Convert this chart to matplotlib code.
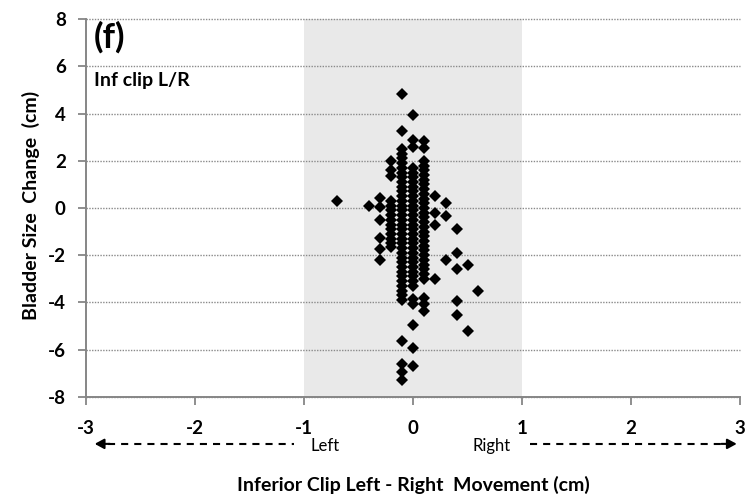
import matplotlib
matplotlib.use("Agg")
import matplotlib.pyplot as plt

plt.rcParams['font.family'] = ['Lato', 'DejaVu Sans']
plt.rcParams['axes.unicode_minus'] = False

# ---- data (x = clip L/R movement, y = bladder size change) ----
x_m07 = -0.7
y_m07 = [0.3]
x_m04 = -0.4
y_m04 = [0.07]
x_m03 = -0.3
y_m03 = [0.42, 0.05, -0.5, -1.28, -1.75, -2.2]
x_m02 = -0.2
y_m02 = [2.0, 1.6, 1.35, 0.3, 0.1, -0.1, -0.3, -0.5, -0.7, -0.9, -1.1, -1.3, -1.5, -1.65]
x_m01 = -0.1
y_m01 = [4.85, 3.25, 2.5, 2.3, 2.1, 1.9, 1.7, 1.5, 1.3, 1.1, 0.9, 0.7, 0.5, 0.3, 0.1,
         -0.1, -0.3, -0.5, -0.7, -0.9, -1.1, -1.3, -1.5, -1.7, -1.9, -2.1, -2.3, -2.5,
         -2.7, -2.9, -3.1, -3.3, -3.5, -3.7, -3.9, -5.65, -6.6, -6.95, -7.3]
x_00 = 0.0
y_00 = [3.95, 2.9, 2.6, 1.7, 1.5, 1.3, 1.1, 0.9, 0.7, 0.5, 0.3, 0.1, -0.1, -0.3, -0.5,
        -0.7, -0.9, -1.1, -1.3, -1.5, -1.7, -1.9, -2.1, -2.3, -2.5, -2.7, -2.9, -3.1,
        -3.3, -3.85, -4.05, -4.95, -5.95, -6.7]
x_p01 = 0.1
y_p01 = [2.85, 2.55, 2.0, 1.8, 1.6, 1.4, 1.2, 1.0, 0.8, 0.6, 0.4, 0.2, 0.0, -0.2, -0.4,
         -0.6, -0.8, -1.0, -1.2, -1.4, -1.6, -1.8, -2.0, -2.2, -2.4, -2.6, -2.8, -3.0,
         -3.8, -4.05, -4.35]
x_p02 = 0.2
y_p02 = [0.5, -0.2, -0.7, -3.0]
x_p03 = 0.3
y_p03 = [0.2, -0.35, -2.2]
x_p04 = 0.4
y_p04 = [-0.9, -1.9, -2.6, -3.95, -4.55]
x_p05 = 0.5
y_p05 = [-2.4, -5.2]
x_p06 = 0.6
y_p06 = [-3.5]

x_ticks = [-3, -2, -1, 0, 1, 2, 3]
y_ticks = [-8, -6, -4, -2, 0, 2, 4, 6, 8]
band_range = (-1, 1)

groups = [(x_m07, y_m07), (x_m04, y_m04), (x_m03, y_m03), (x_m02, y_m02),
          (x_m01, y_m01), (x_00, y_00), (x_p01, y_p01), (x_p02, y_p02),
          (x_p03, y_p03), (x_p04, y_p04), (x_p05, y_p05), (x_p06, y_p06)]

W, H = 749, 495
fig = plt.figure(figsize=(W / 100, H / 100), dpi=100)
ax = fig.add_axes([86 / W, 1 - 396.7 / H, (740 - 86) / W, (396.7 - 19.3) / H])
ax.set_xlim(-3, 3)
ax.set_ylim(-8, 8)

ax.axvspan(band_range[0], band_range[1], color='#e9e9e9', lw=0, zorder=0)

for gx, gy in groups:
    ax.plot([gx] * len(gy), gy, linestyle='none', marker='D', markersize=6.6,
            color='black', markeredgewidth=0, zorder=3)

ax.set_xticks(x_ticks)
ax.set_yticks(y_ticks)
ax.set_axisbelow(True)
ax.yaxis.grid(True, linestyle=(0, (1, 1)), color='#8a8a8a', linewidth=1.0)
ax.xaxis.grid(False)
for ln in ax.get_ygridlines():
    ln.set_clip_on(False)

for s in ['top', 'right']:
    ax.spines[s].set_visible(False)
for s in ['left', 'bottom']:
    ax.spines[s].set_color('#868686')
    ax.spines[s].set_linewidth(1.4)
    ax.spines[s].set_zorder(4)

ax.tick_params(axis='both', direction='out', length=5.5, width=1.3, color='#868686',
               labelsize=13.5)
ax.tick_params(axis='x', pad=11)
ax.tick_params(axis='y', pad=9)
for lbl in ax.get_xticklabels() + ax.get_yticklabels():
    lbl.set_fontweight('bold')

# panel labels
ax.text(-2.93, 7.95, '(f)', fontsize=25, fontweight='bold', va='top', ha='left')
ax.text(-2.93, 5.42, 'Inf clip L/R', fontsize=14, fontweight='bold', va='center', ha='left')

# direction arrows below the axis
arrow_y = -10.0
dash = (0, (3.4, 2.9))
ax.plot([-2.8, -1.09], [arrow_y, arrow_y], color='black', lw=1.5, ls=dash, clip_on=False)
ax.annotate('', xy=(-2.92, arrow_y), xytext=(-2.78, arrow_y),
            arrowprops=dict(arrowstyle='-|>,head_length=0.55,head_width=0.3',
                            color='black', lw=1.5, shrinkA=0, shrinkB=0),
            annotation_clip=False)
ax.plot([1.07, 2.84], [arrow_y, arrow_y], color='black', lw=1.5, ls=dash, clip_on=False)
ax.annotate('', xy=(2.97, arrow_y), xytext=(2.83, arrow_y),
            arrowprops=dict(arrowstyle='-|>,head_length=0.55,head_width=0.3',
                            color='black', lw=1.5, shrinkA=0, shrinkB=0),
            annotation_clip=False)
ax.text(-0.94, arrow_y - 0.1, 'Left', fontsize=12, va='center', ha='left')
ax.text(0.9, arrow_y - 0.1, 'Right', fontsize=12, va='center', ha='right')

fig.text(413 / W, 1 - 491 / H, 'Inferior Clip Left - Right  Movement (cm)',
         fontsize=14, fontweight='bold', ha='center', va='baseline')
fig.text(31 / W, 1 - 205 / H, 'Bladder Size  Change  (cm)', fontsize=14,
         fontweight='bold', rotation=90, ha='center', va='center')

fig.savefig('out.png', dpi=100)
